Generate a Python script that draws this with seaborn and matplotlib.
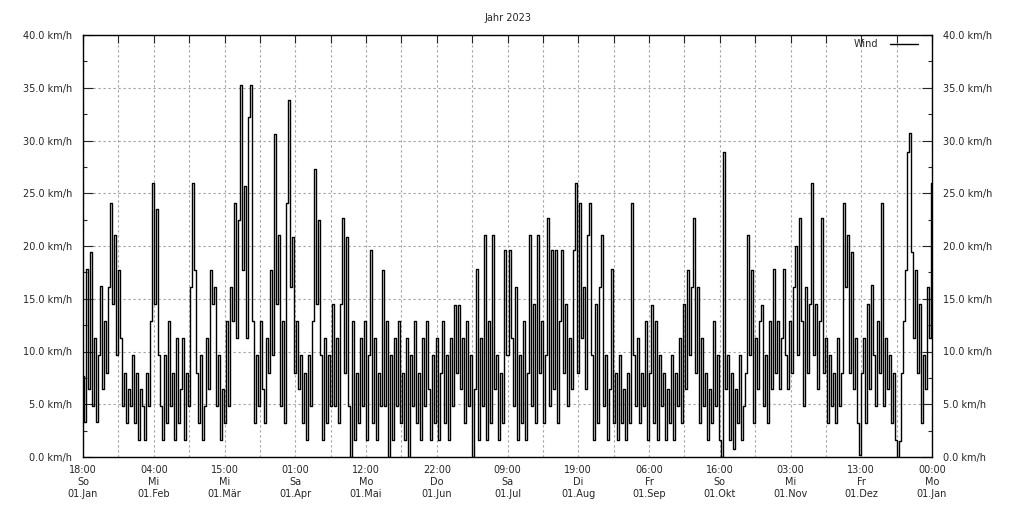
import numpy as np
import pandas as pd
import matplotlib
matplotlib.use("Agg")
import matplotlib.pyplot as plt
import seaborn as sns

# Windgeschwindigkeit (km/h), gleichmaessig ueber das Jahr verteilt
wind = [
    7.7, 3.3, 17.8, 6.4, 19.4,   4.8, 11.3, 3.3, 9.7, 16.2,   6.4, 12.9, 8.0, 16.1, 24.1,
    14.5, 21.0, 9.7, 17.7, 11.3,   4.8, 8.0, 3.2, 6.4, 4.8,   9.7, 3.2, 8.0, 1.6, 6.4,
    4.8, 1.6, 8.0, 4.8, 12.9,   26.0, 14.5, 23.5, 9.7, 4.8,   1.6, 9.7, 3.2, 12.9, 4.8,
    8.0, 1.6, 11.3, 3.2, 6.4,   11.3, 1.6, 8.0, 4.8, 16.1,   26.0, 17.7, 8.0, 3.2, 9.7,
    1.6, 4.8, 11.3, 6.4, 17.7,   14.5, 16.1, 4.8, 9.7, 1.6,   6.4, 3.2, 12.9, 4.8, 16.1,
    12.9, 24.1, 11.3, 22.5, 35.3,   17.7, 25.7, 11.3, 32.2, 35.3,   12.9, 3.2, 9.7, 4.8, 12.9,
    6.4, 3.2, 11.3, 8.0, 17.7,   9.7, 30.6, 14.5, 21.0, 4.8,   12.9, 3.2, 24.1, 33.8, 16.1,
    20.9, 8.0, 12.9, 6.4, 9.7,   3.2, 8.0, 1.6, 9.7, 4.8,   12.9, 27.3, 14.5, 22.5, 9.7,
    1.6, 11.3, 3.2, 9.7, 4.8,   14.5, 4.8, 11.3, 3.2, 14.5,   22.7, 8.0, 20.9, 4.8, 0.0,
    12.9, 1.6, 8.0, 3.2, 11.3,   4.8, 12.9, 1.6, 9.7, 19.6,   3.2, 11.3, 1.6, 8.0, 4.8,
    17.7, 4.8, 12.9, 0.0, 9.7,   1.6, 11.3, 4.8, 12.9, 3.2,   8.0, 1.6, 11.3, 0.0, 9.7,
    4.8, 12.9, 3.2, 8.0, 1.6,   11.3, 4.8, 12.9, 6.4, 1.6,   9.7, 3.2, 11.3, 1.6, 8.0,
    12.9, 3.2, 9.7, 1.6, 11.3,   4.8, 14.4, 8.0, 14.4, 6.4,   11.3, 3.2, 12.9, 4.8, 9.7,
    0.0, 6.4, 17.8, 1.6, 11.3,   4.8, 21.0, 1.6, 12.9, 3.2,   21.0, 6.4, 9.7, 1.6, 8.0,
    3.2, 19.6, 9.7, 19.6, 11.3,   4.8, 16.1, 1.6, 9.7, 3.2,   12.9, 1.6, 8.0, 21.0, 4.8,
    14.5, 3.2, 21.0, 8.0, 12.9,   3.2, 9.7, 22.7, 4.8, 19.6,   6.4, 19.6, 3.2, 12.9, 19.6,
    8.0, 14.5, 4.8, 11.3, 6.4,   19.6, 26.0, 8.0, 24.1, 11.3,   16.1, 6.4, 21.0, 24.1, 9.7,
    1.6, 14.5, 3.2, 16.1, 21.0,   4.8, 9.7, 1.6, 6.4, 17.8,   3.2, 8.0, 1.6, 9.7, 3.2,
    6.4, 1.6, 8.0, 3.2, 24.1,   9.7, 4.8, 11.3, 3.2, 8.0,   4.8, 12.9, 1.6, 8.0, 14.4,
    3.2, 12.9, 1.6, 9.7, 4.8,   8.0, 1.6, 6.4, 3.2, 9.7,   1.6, 8.0, 4.8, 11.3, 3.2,
    14.5, 6.4, 17.7, 9.7, 16.1,   22.7, 8.0, 16.1, 3.2, 11.3,   4.8, 8.0, 1.6, 6.4, 3.2,
    12.9, 4.8, 9.7, 1.6, 0.0,   28.9, 6.4, 9.7, 1.6, 8.0,   0.8, 6.4, 3.2, 9.7, 1.6,
    4.8, 8.0, 21.0, 9.7, 17.7,   3.2, 11.3, 6.4, 12.9, 14.4,   4.8, 9.7, 3.2, 12.9, 6.4,
    17.8, 8.0, 12.9, 6.4, 11.3,   17.8, 9.7, 6.4, 12.9, 8.0,   16.1, 20.0, 9.7, 22.7, 12.9,
    4.8, 16.1, 8.0, 14.5, 26.0,   9.7, 14.5, 6.4, 12.9, 22.7,   8.0, 11.3, 3.2, 9.7, 4.8,
    8.0, 3.2, 11.3, 4.8, 8.0,   24.1, 16.1, 21.0, 8.0, 19.4,   6.4, 11.3, 3.2, 0.2, 8.0,
    11.3, 3.2, 14.5, 6.4, 16.3,   9.7, 4.8, 12.9, 8.0, 24.1,   4.8, 11.3, 6.4, 9.7, 3.2,
    8.0, 1.6, 0.0, 1.5, 8.0,   12.9, 17.7, 28.9, 30.7, 19.4,   11.3, 17.7, 8.0, 14.5, 3.2,
    9.7, 6.4, 16.1, 11.3, 26.0,
]

x_labels = [
    "18:00\nSo\n01.Jan", "04:00\nMi\n01.Feb", "15:00\nMi\n01.Mär", "01:00\nSa\n01.Apr",
    "12:00\nMo\n01.Mai", "22:00\nDo\n01.Jun", "09:00\nSa\n01.Jul", "19:00\nDi\n01.Aug",
    "06:00\nFr\n01.Sep", "16:00\nSo\n01.Okt", "03:00\nMi\n01.Nov", "13:00\nFr\n01.Dez",
    "00:00\nMo\n01.Jan",
]
y_ticks = [0, 5, 10, 15, 20, 25, 30, 35, 40]

start = pd.Timestamp("2023-01-01 18:00")
ende = pd.Timestamp("2024-01-01 00:00")
zeiten = pd.date_range(start, ende, periods=len(wind))

sns.set_style("white")
plt.rcParams["font.family"] = ["DejaVu Sans"]
plt.rcParams["font.size"] = 7

fig = plt.figure(figsize=(10.15, 5.07), dpi=100)
ax = fig.add_axes([83 / 1015, 1 - 457 / 507, 849 / 1015, 422 / 507])

sns.lineplot(x=zeiten, y=wind, ax=ax, color="black", lw=1.0,
             drawstyle="steps-mid", label="Wind")

ax.set_xlim(start, ende)
ax.set_ylim(0, 40)

# x-Achse: Gitter bei jedem Tick, Beschriftung bei jedem zweiten
x_ticks = pd.date_range(start, ende, periods=25)
beschriftung = [x_labels[i // 2] if i % 2 == 0 else "" for i in range(len(x_ticks))]
ax.set_xticks(x_ticks)
ax.set_xticklabels(beschriftung, linespacing=1.25)

ax.set_yticks(y_ticks)
ax.set_yticklabels([f"{v:.1f} km/h" for v in y_ticks])
ax.set_yticks(np.arange(2.5, 40, 5), minor=True)

ax.tick_params(axis="x", direction="in", length=6, width=0.8, top=True, pad=6)
ax.tick_params(axis="y", which="major", direction="in", length=7, width=0.8,
               left=True, right=True, labelright=True, pad=8)
ax.tick_params(axis="y", which="minor", direction="in", length=3, width=0.8,
               left=True, right=True)

ax.grid(True, color="#a0a0a0", lw=0.8, linestyle=(0, (2, 2.5)))
for s in ax.spines.values():
    s.set_color("black")
    s.set_linewidth(1.0)

ax.set_xlabel("")
ax.set_ylabel("")
ax.set_title("Jahr 2023", fontsize=7, pad=10)

ax.legend(loc="upper right", bbox_to_anchor=(0.9835, 0.99), frameon=False,
          markerfirst=False, handlelength=2.9, handletextpad=1.2,
          borderpad=0, borderaxespad=0)

fig.savefig("out.png", dpi=100)
